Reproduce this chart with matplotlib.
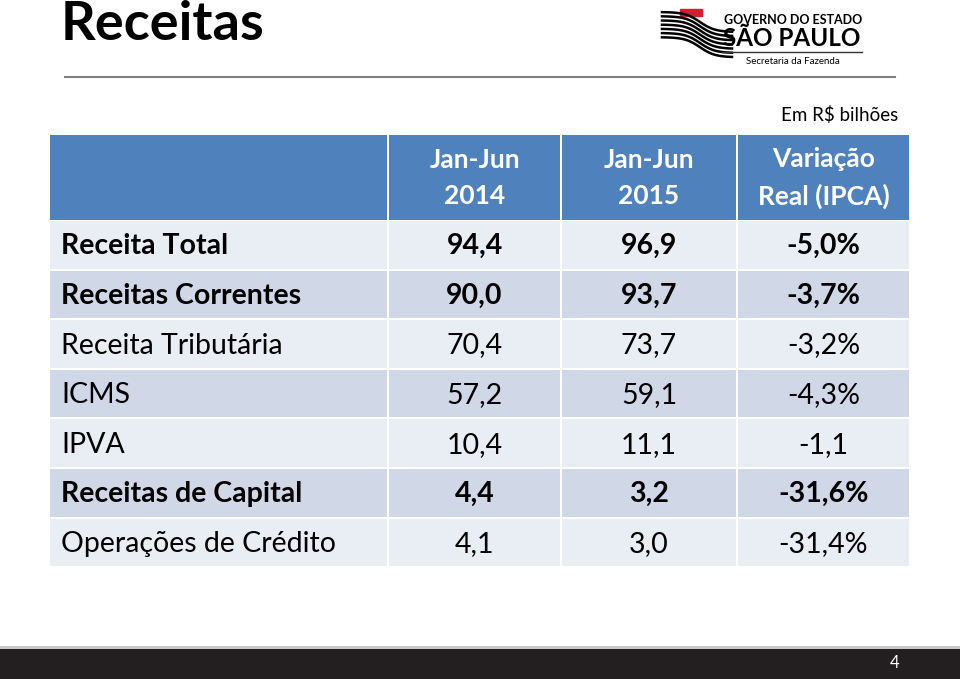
import matplotlib
matplotlib.use("Agg")
import matplotlib.pyplot as plt
from matplotlib.patches import Rectangle
import numpy as np

plt.rcParams['font.family'] = ['Lato', 'DejaVu Sans']

# table data
header = ["Jan-Jun\n2014", "Jan-Jun\n2015", "Variação\nReal (IPCA)"]
row_labels = ["Receita Total", "Receitas Correntes", "Receita Tributária",
              "ICMS", "IPVA", "Receitas de Capital", "Operações de Crédito"]
col_2014 = ["94,4", "90,0", "70,4", "57,2", "10,4", "4,4", "4,1"]
col_2015 = ["96,9", "93,7", "73,7", "59,1", "11,1", "3,2", "3,0"]
col_var = ["-5,0%", "-3,7%", "-3,2%", "-4,3%", "-1,1", "-31,6%", "-31,4%"]
bold_rows = [True, True, False, False, False, True, False]

fig = plt.figure(figsize=(9.6, 6.79), dpi=100)
ax = fig.add_axes([0, 0, 1, 1])
ax.set_xlim(0, 960)
ax.set_ylim(679, 0)
ax.axis('off')

# title and header line
ax.text(61, 25, "Receitas", fontsize=39, fontweight='bold', va='center', ha='left')
ax.plot([65, 895], [77, 77], color='#808080', lw=1.5)

# logo (rough approximation)
for k in range(7):
    xs = np.linspace(662, 732, 30)
    ys = 22 + k * 4.2 + 10 * np.tanh((xs - 700) / 15)
    ax.plot(xs, ys, color='black', lw=1.8)
ax.add_patch(Rectangle((680, 9), 22, 7, color='#d02030'))
ax.text(793, 20, "GOVERNO DO ESTADO", fontsize=9, fontweight='bold', va='center', ha='center')
ax.text(792, 39, "SÃO PAULO", fontsize=17.5, fontweight='bold', va='center', ha='center')
ax.plot([722, 862], [52, 52], color='#333333', lw=1)
ax.text(793, 61, "Secretaria da Fazenda", fontsize=7, va='center', ha='center')

ax.text(840, 115, "Em R$ bilhões", fontsize=13.5, va='center', ha='center')

# table geometry
col_x = [50, 389, 562, 738, 911]
head_top, head_bot = 135, 219.5
row_h = 49.6
gap = 2

for c in range(4):
    ax.add_patch(Rectangle((col_x[c], head_top), col_x[c + 1] - col_x[c] - gap,
                           head_bot - head_top, color='#4F81BD', lw=0))
for c, txt in enumerate(header):
    cx = (col_x[c + 1] + col_x[c + 2] - gap) / 2
    ax.text(cx, 178, txt, fontsize=19, fontweight='bold', color='white',
            ha='center', va='center', linespacing=1.6)

for r, lab in enumerate(row_labels):
    top = head_bot + 1.5 + r * row_h
    face = '#E9EDF4' if r % 2 == 0 else '#D0D8E8'
    for c in range(4):
        ax.add_patch(Rectangle((col_x[c], top), col_x[c + 1] - col_x[c] - gap,
                               row_h - gap, color=face, lw=0))
    w = 'bold' if bold_rows[r] else 'normal'
    cy = top + (row_h - gap) / 2 + 1.5
    ax.text(61, cy, lab, fontsize=20.5, fontweight=w, ha='left', va='center')
    vals = [col_2014[r], col_2015[r], col_var[r]]
    for c, v in enumerate(vals):
        cx = (col_x[c + 1] + col_x[c + 2] - gap) / 2
        ax.text(cx, cy, v, fontsize=20.5, fontweight=w, ha='center', va='center')

# footer bar
ax.add_patch(Rectangle((0, 646), 960, 2.5, color='#c8c8c8', lw=0))
ax.add_patch(Rectangle((0, 648.5), 960, 30.5, color='#231F20', lw=0))
ax.text(895, 663, "4", fontsize=12, color='white', ha='center', va='center')

fig.savefig("out.png", dpi=100)
